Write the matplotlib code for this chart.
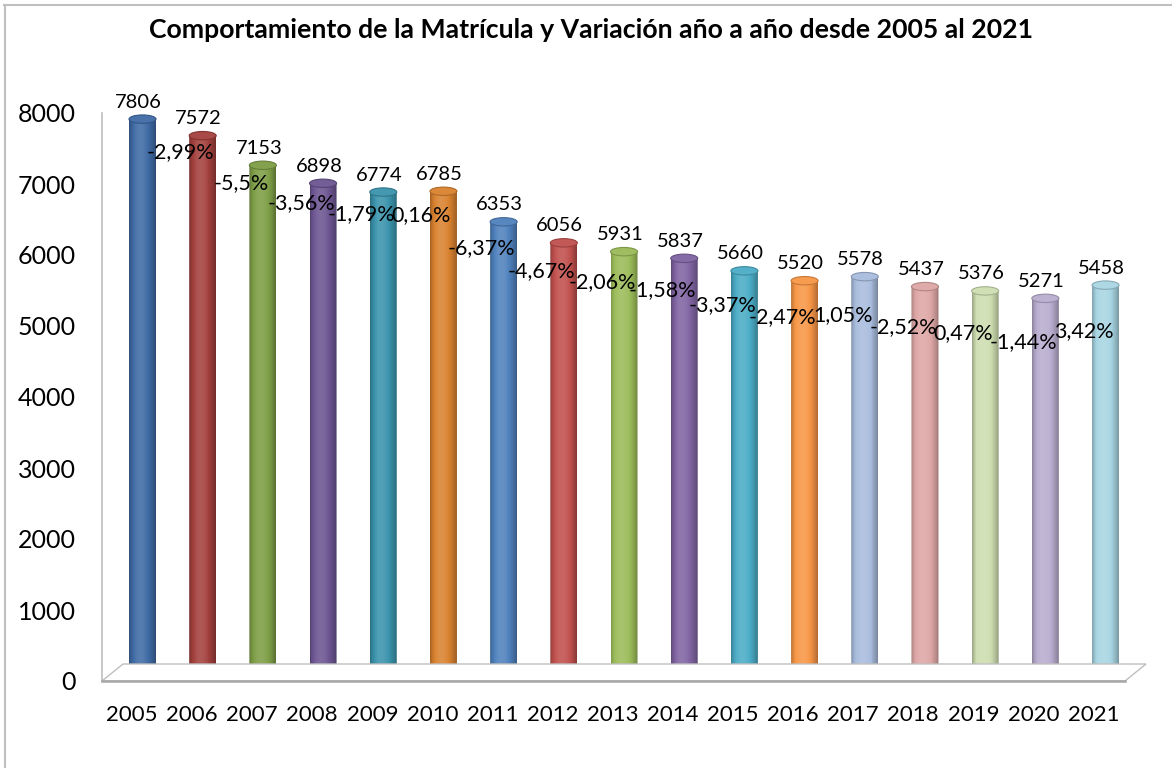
import numpy as np
import matplotlib
matplotlib.use("Agg")
import matplotlib.pyplot as plt
from matplotlib.patches import Rectangle, Ellipse, PathPatch, Polygon
from matplotlib.path import Path
from matplotlib.collections import PatchCollection
from matplotlib.lines import Line2D
from matplotlib.colors import to_rgb

# ---------------- data ----------------
years = [2005, 2006, 2007, 2008, 2009, 2010, 2011, 2012, 2013,
         2014, 2015, 2016, 2017, 2018, 2019, 2020, 2021]
enrollment = [7806, 7572, 7153, 6898, 6774, 6785, 6353, 6056, 5931,
              5837, 5660, 5520, 5578, 5437, 5376, 5271, 5458]
# year-over-year variation (%) for 2006..2021
variation = [-2.99, -5.5, -3.56, -1.79, 0.16, -6.37, -4.67, -2.06,
             -1.58, -3.37, -2.47, 1.05, -2.52, 0.47, -1.44, 3.42]
bar_colors = ["#3F6BA5", "#A3403D", "#7D9D45", "#6C5591", "#3A93AC", "#D9822F",
              "#4F81BD", "#C0504D", "#9BBB59", "#8064A2", "#4BACC6", "#F79646",
              "#A8BCDD", "#DDA6A5", "#CDDDB0", "#B8ADCF", "#A8D5E2"]
y_ticks = [0, 1000, 2000, 3000, 4000, 5000, 6000, 7000, 8000]
title = "Comportamiento de la Matrícula y Variación año a año desde 2005 al 2021"

plt.rcParams['font.family'] = ['Lato', 'DejaVu Sans']

W, H = 1172, 768
fig = plt.figure(figsize=(W / 100, H / 100), dpi=100)
fig.patch.set_facecolor("white")

def rect(l, r, t, b):
    return [l / W, 1 - b / H, (r - l) / W, (b - t) / H]

# layout (pixels)
AX_L, AX_R, AX_T, AX_B = 102, 1125, 113, 681
n = len(years)
idx = np.arange(n)

# front plane axes: ticks, year labels, floor
ax = fig.add_axes(rect(AX_L, AX_R, AX_T, AX_B))
lab_x0, lab_dx = 132.0, 60.1
ax.set_xlim((AX_L - lab_x0) / lab_dx, (AX_R - lab_x0) / lab_dx)
ax.set_ylim(0, 8000)
ax.set_facecolor("none")
for s in ["top", "right", "bottom"]:
    ax.spines[s].set_visible(False)
ax.spines["left"].set_color("#BFBFBF")
ax.spines["left"].set_linewidth(1.2)
ax.set_yticks(y_ticks)
ax.set_yticklabels([str(t) for t in y_ticks], fontsize=18)
ax.set_xticks(idx)
ax.set_xticklabels([str(y) for y in years], fontsize=16)
ax.tick_params(axis="y", length=0, pad=19)
ax.tick_params(axis="x", length=0, pad=17)

# floor (3D base)
depth_dx, depth_dy = 21, 17
fl, fr = ax.transAxes.transform([(0, 0), (1, 0)])
floor = np.array([fl, fr, fr + [depth_dx, depth_dy], fl + [depth_dx, depth_dy]])
fig.patches.append(Polygon(floor, closed=True, transform=None, facecolor="white",
                           edgecolor="#BFBFBF", linewidth=1.0, zorder=0.5))
fig.lines.append(Line2D([fl[0], fr[0]], [fl[1], fr[1]], transform=None,
                        color="#A6A6A6", linewidth=1.8, zorder=0.6))

# bar plane axes
ax2 = fig.add_axes(rect(AX_L, AX_R, AX_T, AX_B))
bar_x0, bar_dx = 142.5, 60.19
base_px, px_per_unit = 671.0, 0.0707
ax2.set_xlim((AX_L - bar_x0) / bar_dx, (AX_R - bar_x0) / bar_dx)
ax2.set_ylim((base_px - AX_B) / px_per_unit, (base_px - AX_T) / px_per_unit)
ax2.axis("off")
ax2.set_facecolor("none")

bw = 27.0 / bar_dx            # cylinder width in category units
eb = 4.2 / px_per_unit        # semi-minor axis of ellipse in data units

def shade(c, k):
    c = np.array(c)
    if k <= 1:
        return tuple(c * k)
    return tuple(c + (1 - c) * min(k - 1, 1))

N = 28
for i, (v, col) in enumerate(zip(enrollment, bar_colors)):
    base = to_rgb(col)
    th = np.linspace(np.pi, 2 * np.pi, 40)
    verts = [(i - bw / 2, v), (i - bw / 2, 0)]
    verts += [(i + bw / 2 * np.cos(t), eb * np.sin(t)) for t in th]
    verts += [(i + bw / 2, v), (i - bw / 2, v)]
    codes = [Path.MOVETO] + [Path.LINETO] * (len(verts) - 2) + [Path.CLOSEPOLY]
    clip = PathPatch(Path(verts, codes), facecolor="none", edgecolor="none",
                     transform=ax2.transData)
    ax2.add_patch(clip)
    strips = []
    cols = []
    for j in range(N):
        t = (j + 0.5) / N
        k = 0.70 + 0.42 * np.sin(np.pi * t ** 0.8) ** 0.9
        strips.append(Rectangle((i - bw / 2 + j * bw / N, -2 * eb), bw / N * 1.05, v + 2 * eb))
        cols.append(shade(base, k))
    pc = PatchCollection(strips, facecolors=cols, edgecolors="none", zorder=2)
    ax2.add_collection(pc)
    pc.set_clip_path(clip)
    top = Ellipse((i, v), bw, 2 * eb, facecolor=shade(base, 1.05),
                  edgecolor=shade(base, 0.8), linewidth=0.8, zorder=3)
    ax2.add_patch(top)

PT = 0.72  # points per pixel
for i, v in enumerate(enrollment):
    ax2.annotate(str(v), (i, v), xytext=(-4 * PT, (4 + 13) * PT),
                 textcoords="offset points", ha="center", va="center",
                 fontsize=14.5, color="black", zorder=5)

for k, pv in enumerate(variation):
    i = k + 1
    txt = f"{pv:g}".replace(".", ",") + "%"
    ax2.annotate(txt, (i, enrollment[i]), xytext=(-22 * PT, -(14 + 2 * i) * PT),
                 textcoords="offset points", ha="center", va="center",
                 fontsize=15.5, color="black", zorder=6)

fig.text(591 / W, 1 - 38 / H, title, ha="center", va="baseline",
         fontsize=19.2, fontweight="bold")

# chart area border (top and left visible)
fig.lines.append(Line2D([4, W], [H - 4.5, H - 4.5], transform=None, color="#BFBFBF", linewidth=1.5))
fig.lines.append(Line2D([4.5, 4.5], [0, H - 4.5], transform=None, color="#BFBFBF", linewidth=1.5))

fig.savefig("out.png", dpi=100)
